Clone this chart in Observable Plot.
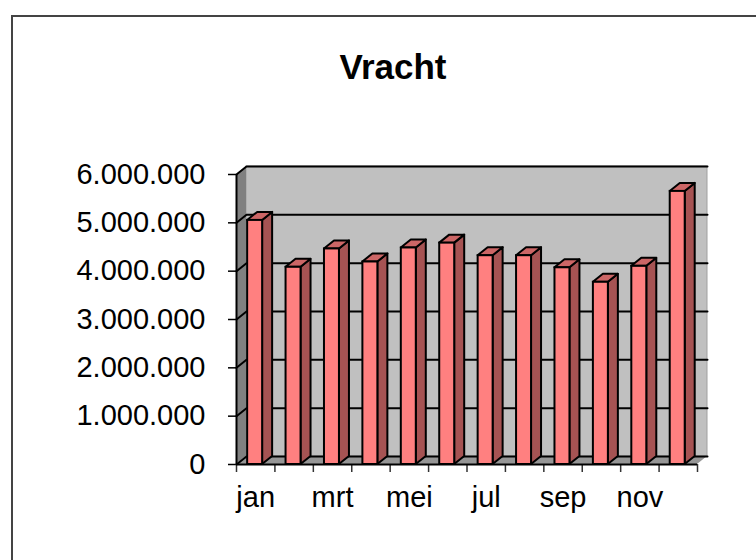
<!DOCTYPE html>
<html><head><meta charset="utf-8">
<script src="https://cdn.jsdelivr.net/npm/d3@7"></script>
<script src="https://cdn.jsdelivr.net/npm/@observablehq/plot@0.6"></script>
<style>
html,body{margin:0;padding:0;width:756px;height:560px;overflow:hidden;background:#fff;}
#frame{position:absolute;left:11px;top:15px;width:900px;height:700px;border:2px solid #444;box-sizing:border-box;}
#title{position:absolute;left:193px;width:400px;top:47px;line-height:35px;text-align:center;font:bold 35px Arial,"Liberation Sans",sans-serif;color:#000;}
#chart{position:absolute;left:0;top:0;}
</style></head><body>
<div id="frame"></div>
<div id="chart"></div>
<div id="title">Vracht</div>
<script>
// ---- data ----
const months = ["jan","feb","mrt","apr","mei","jun","jul","aug","sep","okt","nov","dec"];
const values = [5050000, 4080000, 4460000, 4190000, 4480000, 4580000, 4320000, 4320000, 4070000, 3770000, 4100000, 5650000];
const yTicks = [0, 1000000, 2000000, 3000000, 4000000, 5000000, 6000000];
const xLabelMonths = ["jan","mrt","mei","jul","sep","nov"];

// ---- geometry constants (3D look) ----
const W = 756, H = 560, mL = 236, mR = 59, mT = 174, mB = 96;
const yMax = 6000000, n = months.length;
const pxPerX = (W - mL - mR) / n, pxPerY = (H - mT - mB) / yMax;
const d = 10 / pxPerX;        // depth in x units
const e = 8 / pxPerY;         // depth in y units
const bL = 0.29, bR = 0.68;   // bar front face within band

const nl = d3.formatLocale({decimal: ",", thousands: ".", grouping: [3], currency: ["€", ""]});
const fmt = nl.format(",");

const backWall = [{x1: d, x2: n + d, y1: e, y2: yMax + e}];
const leftWall = [{x: 0, y1: 0, y2: yMax}, {x: d, y1: e, y2: yMax + e}];
const floor = [{y: 0, x1: 0, x2: n}, {y: e, x1: d, x2: n + d}];
const grid = yTicks.flatMap(t => [{t, x: 0, y: t}, {t, x: d, y: t + e}, {t, x: n + d, y: t + e}]);

const bars = months.map((m, i) => ({m, x1: i + bL, x2: i + bR, v: values[i]}));
const sides = bars.flatMap(b => [{m: b.m, x: b.x2, y1: 0, y2: b.v}, {m: b.m, x: b.x2 + d, y1: e, y2: b.v + e}]);
const tops = bars.flatMap(b => [{m: b.m, y: b.v, x1: b.x1, x2: b.x2}, {m: b.m, y: b.v + e, x1: b.x1 + d, x2: b.x2 + d}]);

const labelPos = xLabelMonths.map(m => months.indexOf(m) + 0.5);

const chart = Plot.plot({
  width: W, height: H,
  marginLeft: mL, marginRight: mR, marginTop: mT, marginBottom: mB,
  style: {fontSize: "29px", fontFamily: "Arial, 'Liberation Sans', sans-serif", color: "#000", background: "transparent", overflow: "visible"},
  x: {domain: [0, n]},
  y: {domain: [0, yMax]},
  marks: [
    Plot.rect(backWall, {x1: "x1", x2: "x2", y1: "y1", y2: "y2", fill: "#c0c0c0", stroke: "#a0a0a0", strokeWidth: 1}),
    Plot.areaY(leftWall, {x: "x", y1: "y1", y2: "y2", fill: "#808080"}),
    Plot.areaX(floor, {y: "y", x1: "x1", x2: "x2", fill: "#969696"}),
    Plot.line(grid, {x: "x", y: "y", z: "t", stroke: "#000", strokeWidth: 2}),
    Plot.axisY({ticks: yTicks, tickFormat: fmt, tickSize: 8, tickPadding: 23, fontSize: 29, strokeWidth: 1.5}),
    Plot.axisX({ticks: d3.range(n + 1), tickFormat: () => "", tickSize: 8, stroke: "#333", strokeWidth: 1.5}),
    Plot.axisX({ticks: labelPos, tickFormat: v => months[Math.floor(v)], tickSize: 0, tickPadding: 22, fontSize: 29}),
    Plot.ruleX([0], {stroke: "#000", strokeWidth: 2}),
    Plot.ruleY([0], {stroke: "#000", strokeWidth: 2}),
    Plot.areaY(sides, {x: "x", y1: "y1", y2: "y2", z: "m", fill: "#a65353", stroke: "#000", strokeWidth: 2, strokeLinejoin: "round"}),
    Plot.areaX(tops, {y: "y", x1: "x1", x2: "x2", z: "m", fill: "#cc6666", stroke: "#000", strokeWidth: 2, strokeLinejoin: "round"}),
    Plot.rect(bars, {x1: "x1", x2: "x2", y1: 0, y2: "v", fill: "#ff8080", stroke: "#000", strokeWidth: 2})
  ]
});
document.getElementById("chart").appendChild(chart);
</script>
</body></html>
